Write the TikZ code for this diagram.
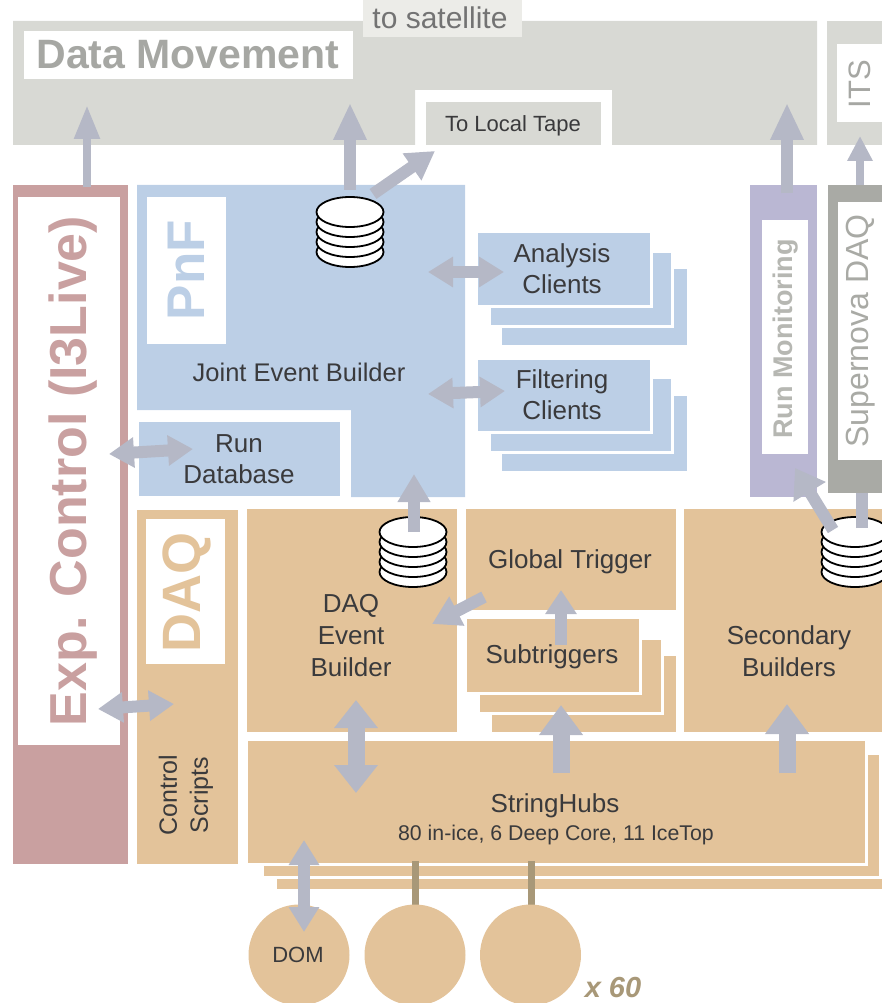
\documentclass[tikz,border=0pt]{standalone}
\usepackage{fontspec}
\setmainfont{Liberation Sans}
\usetikzlibrary{arrows.meta}
\definecolor{gry}{HTML}{D8D9D4}
\definecolor{grylight}{HTML}{ECECE8}
\definecolor{grytxt}{HTML}{A6A7A3}
\definecolor{blu}{HTML}{BCCFE6}
\definecolor{org}{HTML}{E3C39A}
\definecolor{red1}{HTML}{C9A0A0}
\definecolor{vio}{HTML}{BAB7D3}
\definecolor{sng}{HTML}{A9AAA5}
\definecolor{arr}{HTML}{B5B8C6}
\definecolor{stem}{HTML}{A89878}
\definecolor{ink}{HTML}{3A3A3C}
\newcommand{\fsz}[1]{\fontsize{#1}{#1}\selectfont}
\newcommand{\bx}[7][]{\node[boxed,fill=#7,minimum width={#4pt-#2pt},minimum height={#5pt-#3pt},#1] (#6) at ({(#2+#4)/2},{(#3+#5)/2}) {};}
\newcommand{\fbx}[7][]{\node[boxed,fill=#7,draw=white,line width=2.5pt,minimum width={#4pt-#2pt+2.5pt},minimum height={#5pt-#3pt+2.5pt},#1] (#6) at ({(#2+#4)/2},{(#3+#5)/2}) {};}
\newcommand{\disk}[3]{%
  \coordinate (#1) at (#2,#3);
  \foreach \dy in {40,30,20,10,0}{\draw[diskline] (#2,#3+\dy) ellipse (33.5 and 15);}}
\tikzset{
  x=1pt,y=-1pt,
  boxed/.style={rectangle,inner sep=0pt,outer sep=0pt},
  txt/.style={text=ink,align=center,inner sep=0pt,font=\fsz{26}},
  diskline/.style={draw=black,fill=white,line width=1.8pt},
  arS/.style={draw=arr,line width=8pt,-{Triangle[length=34pt,width=24pt]}},
  arM/.style={draw=arr,line width=12pt,-{Triangle[length=28pt,width=31pt]}},
  arL/.style={draw=arr,line width=17pt,-{Triangle[length=30pt,width=42pt]}},
  arD/.style={draw=arr,line width=12pt,{Triangle[length=25pt,width=29pt]}-{Triangle[length=25pt,width=29pt]}},
  arDL/.style={draw=arr,line width=17pt,{Triangle[length=28pt,width=42pt]}-{Triangle[length=28pt,width=42pt]}},
}
\begin{document}
\begin{tikzpicture}
\useasboundingbox (0,0) rectangle (882,1003);
\clip (0,0) rectangle (882,1003);
% Data movement
\fill[gry] (13,21) -- (817,21) -- (817,145) -- (612,145) -- (612,90) -- (415,90) -- (415,145) -- (13,145) -- cycle;
\bx{363}{0}{522}{37}{satbox}{grylight}
\node[txt,font=\fsz{30},text=black!55] (sat) at (440,18) {to satellite};
\bx{24}{31}{353}{79}{dmbox}{white}
\node[txt,font=\bfseries\fsz{41},text=grytxt] (dm) at (188,55) {Data Movement};
\bx{426}{102}{601}{145}{tape}{gry}
\node[txt,font=\fsz{22}] (tapetxt) at (513,126) {To Local Tape};
% ITS
\bx{827}{21}{890}{145}{itsouter}{gry}
\bx{837}{44}{890}{122}{itsbox}{white}
\node[txt,rotate=90,font=\fsz{31},text=grytxt] (its) at (860,84) {ITS};
% Exp control
\bx{13}{185}{128}{864}{expouter}{red1}
\bx{18}{197}{120}{745}{expbox}{white}
\node[txt,rotate=90,font=\bfseries\fsz{52},text=red1] (exp) at (73,471) {Exp. Control (I3Live)};
% PnF
\fill[blu] (137,185) -- (465,185) -- (465,497) -- (351,497) -- (351,410) -- (137,410) -- cycle;
\bx{147}{197}{226}{344}{pnfbox}{white}
\node[txt,rotate=90,font=\bfseries\fsz{53},text=blu] (pnf) at (186,270) {PnF};
\node[txt,font=\fsz{25.5}] (jeb) at (299,372) {Joint Event Builder};
\bx{139}{422}{340}{496}{rundb}{blu}
\node[txt,font=\fsz{26},align=center] (rundbt) at (239,459) {Run\\[5pt]Database};
% Analysis
\bx{502}{269}{687}{345}{an3}{blu}
\fbx{491}{253}{671}{325}{an2}{blu}
\fbx{478}{233}{650}{305}{an1}{blu}
\node[txt,align=center] (ant) at (562,269) {Analysis\\[5pt]Clients};
% Filtering
\bx{502}{396}{687}{471}{fi3}{blu}
\fbx{491}{379}{671}{451}{fi2}{blu}
\fbx{478}{360}{650}{431}{fi1}{blu}
\node[txt,align=center] (fit) at (562,395) {Filtering\\[5pt]Clients};
% Run monitoring
\bx{750}{185}{817}{497}{rmouter}{vio}
\bx{762}{220}{808}{454}{rmbox}{white}
\node[txt,rotate=90,font=\bfseries\fsz{27},text=sng!85] (rm) at (786,339) {Run Monitoring};
% Supernova
\bx{828}{185}{890}{493}{snouter}{sng}
\bx{838}{202}{890}{460}{snbox}{white}
\node[txt,rotate=90,font=\fsz{32},text=sng] (sn) at (861,331) {Supernova DAQ};
% DAQ
\bx{137}{510}{238}{864}{daqouter}{org}
\bx{146}{519}{225}{664}{daqbox}{white}
\node[txt,rotate=90,font=\bfseries\fsz{54},text=org] (daq) at (187,592) {DAQ};
\node[txt,rotate=90,font=\fsz{25},align=center] (cs) at (186,795) {Control\\[6pt]Scripts};
\bx{247}{509}{457}{732}{deb}{org}
\node[txt,align=center] (debt) at (351,636) {DAQ\\[6pt]Event\\[6pt]Builder};
\bx{466}{509}{676}{610}{gt}{org}
\node[txt] (gtt) at (570,562) {Global Trigger};
\bx{492}{656}{676}{732}{st3}{org}
\fbx{480}{640}{661}{712}{st2}{org}
\fbx{467}{619}{639}{692}{st1}{org}
\node[txt] (stt) at (552,657) {Subtriggers};
\bx{684}{509}{890}{732}{sb}{org}
\node[txt,align=center] (sbt) at (789,651) {Secondary\\[6pt]Builders};
% StringHubs
\bx{277}{770}{890}{889}{sh3}{org}
\fbx{264}{755}{879}{876}{sh2}{org}
\fbx{248}{741}{865}{863}{sh1}{org}
\node[txt] (sht) at (555,806) {StringHubs};
\node[txt,font=\fsz{21.3}] (shs) at (556,835) {80 in-ice, 6 Deep Core, 11 IceTop};
% stems
\coordinate (s2a) at (415,861); \coordinate (s2b) at (415,908);
\coordinate (s3a) at (531,861); \coordinate (s3b) at (531,908);
\draw[stem,line width=7pt] (s2a) -- (s2b);
\draw[stem,line width=7pt] (s3a) -- (s3b);
% DOMs
\node[circle,fill=org,minimum size=101pt,inner sep=0pt,outer sep=0pt] (dom1) at (299,955) {};
\node[circle,fill=org,minimum size=101pt,inner sep=0pt,outer sep=0pt] (dom2) at (415,955) {};
\node[circle,fill=org,minimum size=101pt,inner sep=0pt,outer sep=0pt] (dom3) at (530.5,955) {};
\node[txt,font=\fsz{22}] (domt) at (298,955) {DOM};
\node[txt,font=\bfseries\itshape\fsz{29},text=stem] (x60) at (613,988) {x 60};
% Disks
\disk{d1}{350}{212}
\disk{d2}{413}{532}
\disk{d3}{855}{532}
% Arrows
\coordinate (a1a) at (87,187);  \coordinate (a1b) at (87,105);
\coordinate (a2a) at (350,190); \coordinate (a2b) at (350,103);
\coordinate (a3a) at (373,194); \coordinate (a3b) at (435,151);
\coordinate (a4a) at (787,193); \coordinate (a4b) at (787,103);
\coordinate (a5a) at (860,185); \coordinate (a5b) at (860,136);
\coordinate (a6a) at (428,272); \coordinate (a6b) at (504,272);
\coordinate (a7a) at (428,394); \coordinate (a7b) at (505,391);
\coordinate (a8a) at (109,454); \coordinate (a8b) at (193,449);
\coordinate (a9a) at (98,709);  \coordinate (a9b) at (174,704);
\coordinate (b1a) at (414,532); \coordinate (b1b) at (414,474);
\coordinate (b2a) at (484,597); \coordinate (b2b) at (432,624);
\coordinate (b3a) at (561,645); \coordinate (b3b) at (561,590);
\coordinate (b4a) at (561,773); \coordinate (b4b) at (561,705);
\coordinate (b5a) at (787,773); \coordinate (b5b) at (787,704);
\coordinate (b6a) at (356,700); \coordinate (b6b) at (356,793);
\coordinate (b7a) at (304,840); \coordinate (b7b) at (304,932);
\coordinate (b8a) at (833,530); \coordinate (b8b) at (795,468);
\coordinate (b9a) at (862,528); \coordinate (b9b) at (862,493);
\draw[arS] (a1a) -- (a1b);
\draw[arM,-{Triangle[length=37pt,width=31pt]}] (a2a) -- (a2b);
\draw[arM] (a3a) -- (a3b);
\draw[arM,-{Triangle[length=37pt,width=31pt]}] (a4a) -- (a4b);
\draw[arS,-{Triangle[length=25pt,width=24pt]}] (a5a) -- (a5b);
\draw[arD] (a6a) -- (a6b);
\draw[arD] (a7a) -- (a7b);
\draw[arD] (a8a) -- (a8b);
\draw[arD] (a9a) -- (a9b);
\draw[arM] (b1a) -- (b1b);
\draw[arM] (b2a) -- (b2b);
\draw[arM,-{Triangle[length=24pt,width=30pt]}] (b3a) -- (b3b);
\draw[arL] (b4a) -- (b4b);
\draw[arL] (b5a) -- (b5b);
\draw[arDL] (b6a) -- (b6b);
\draw[arD] (b7a) -- (b7b);
\draw[arM,-{Triangle[length=28pt,width=36pt]}] (b8a) -- (b8b);
\draw[draw=arr,line width=12pt] (b9a) -- (b9b);
\end{tikzpicture}
\end{document}
